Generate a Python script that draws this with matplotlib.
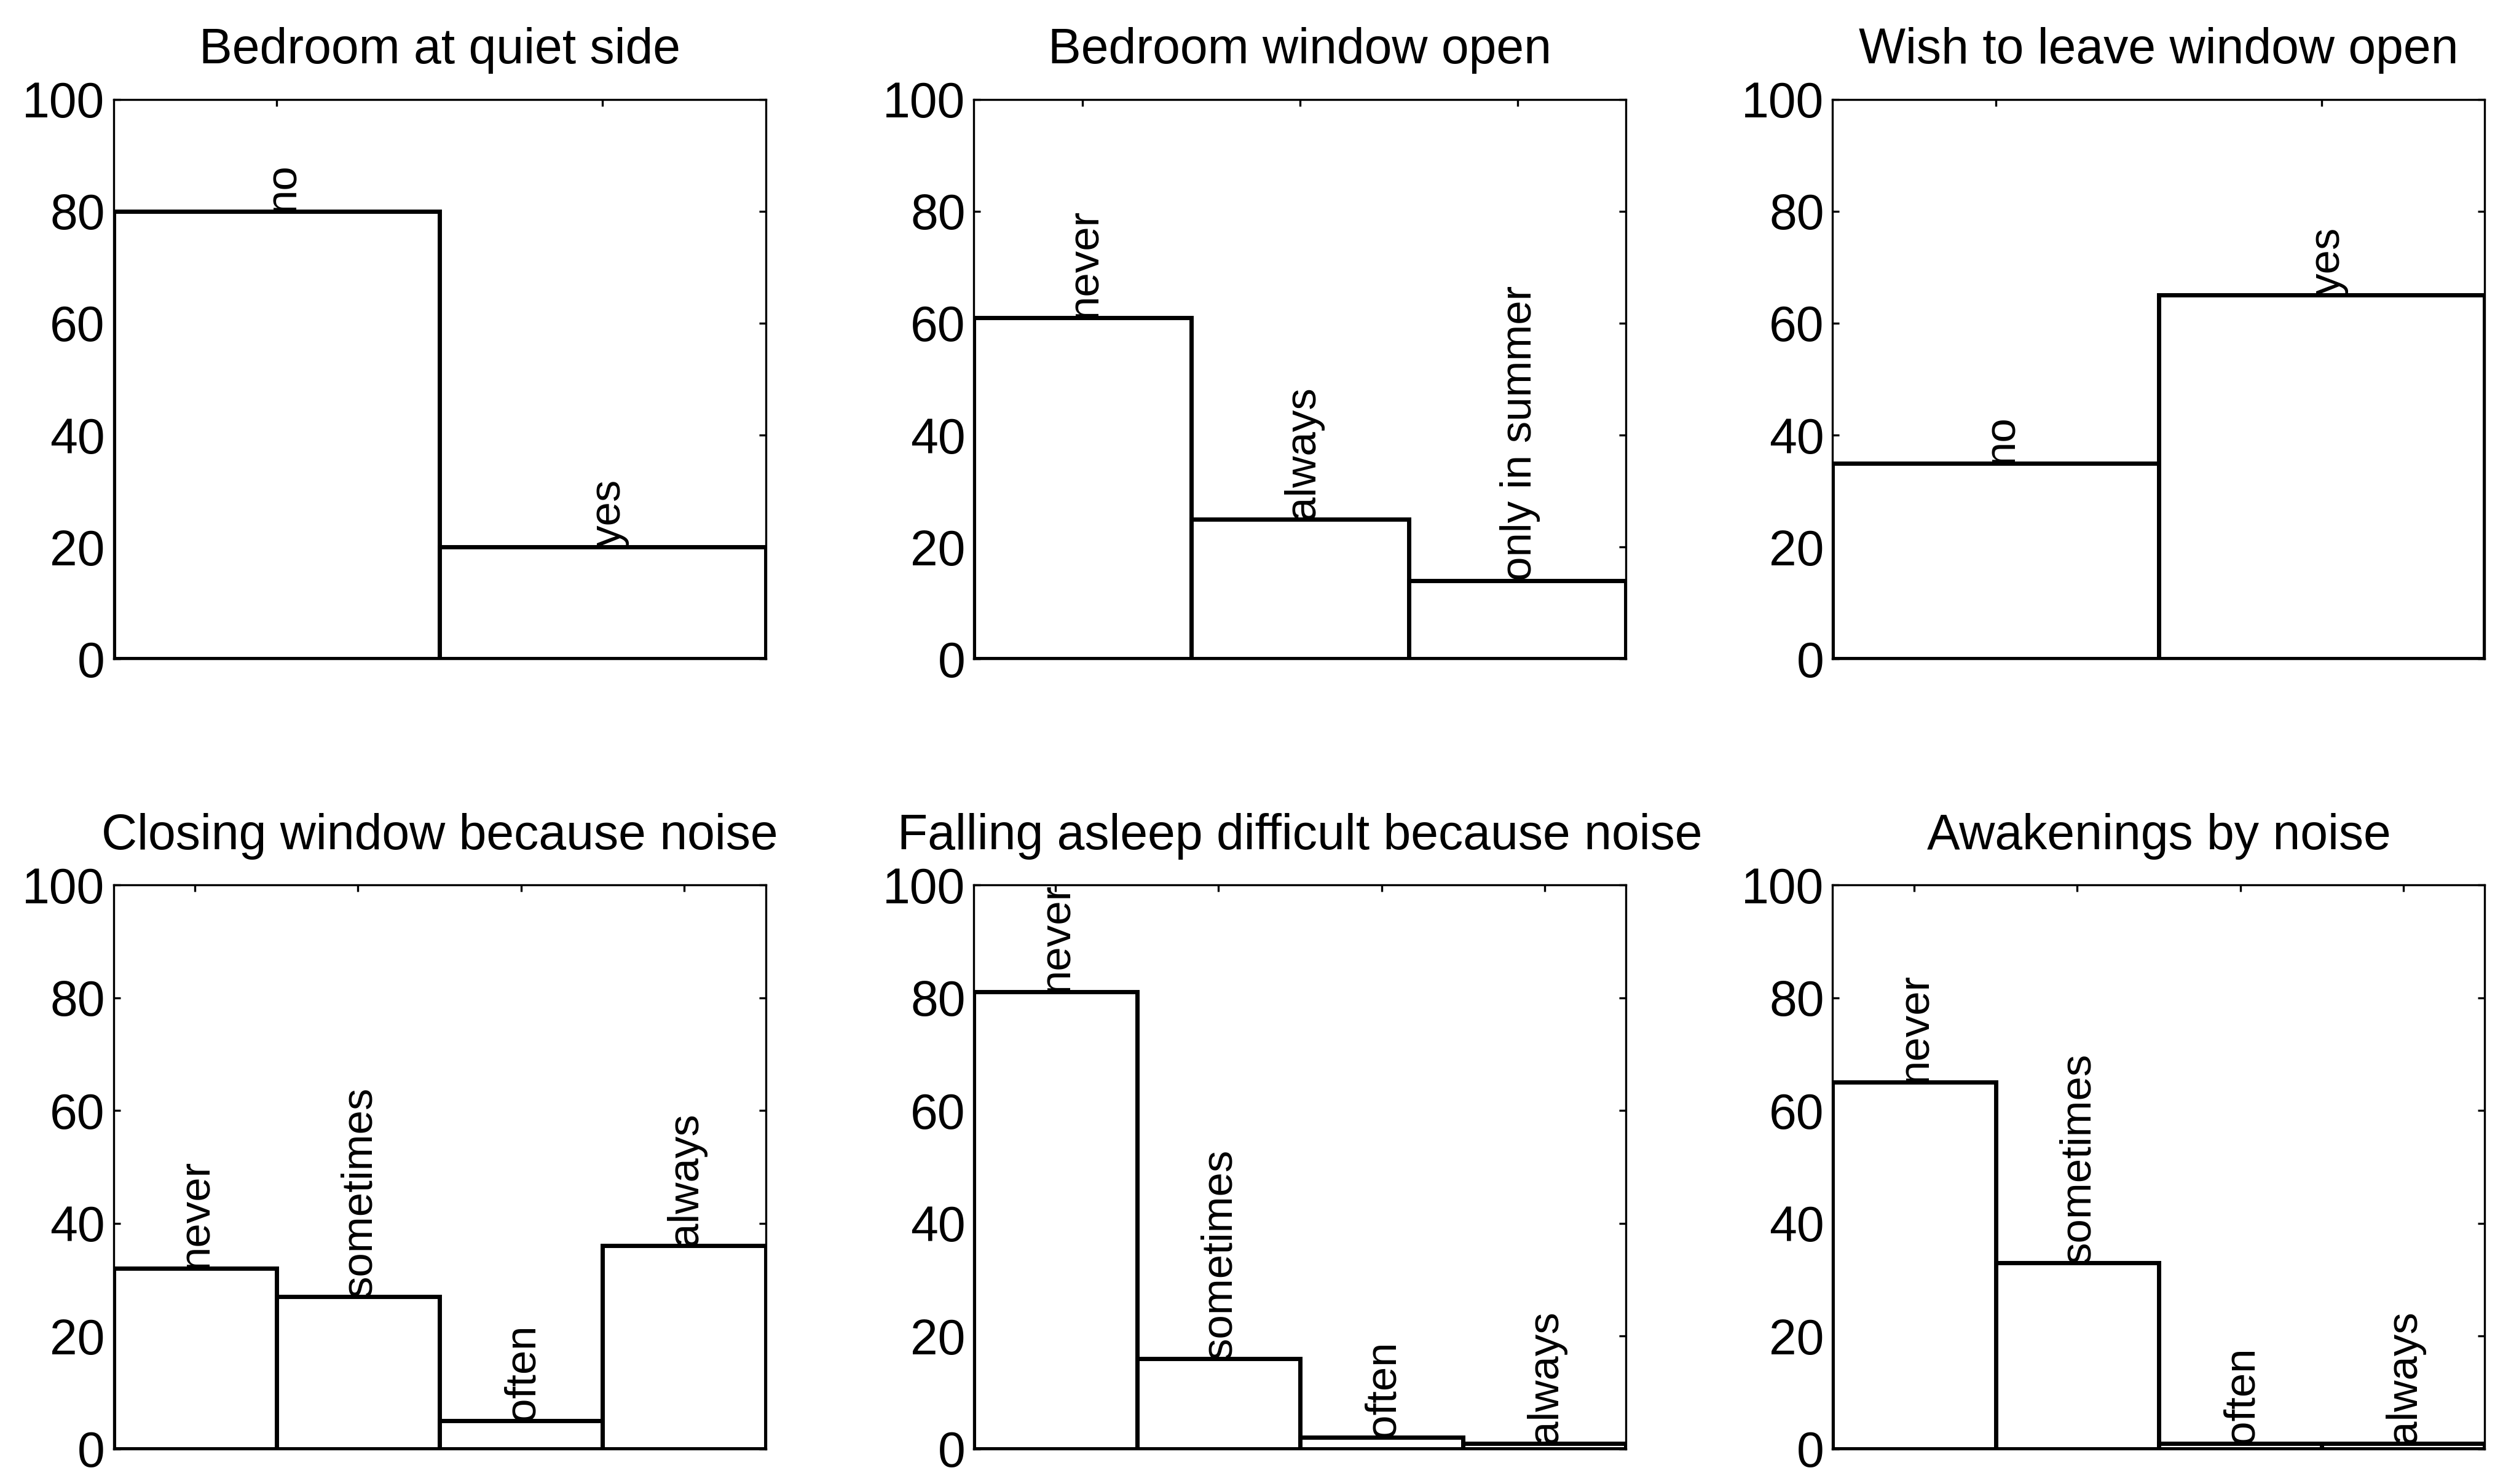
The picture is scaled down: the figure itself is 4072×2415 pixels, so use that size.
import matplotlib
matplotlib.use('Agg')
import matplotlib.pyplot as plt

plt.rcParams['font.family'] = ['Liberation Sans', 'DejaVu Sans']

# survey answers, percent of respondents
titles = ['Bedroom at quiet side', 'Bedroom window open', 'Wish to leave window open',
          'Closing window because noise', 'Falling asleep difficult because noise',
          'Awakenings by noise']

quiet_side_labels = ['no', 'yes']
quiet_side_values = [80, 20]

window_open_labels = ['never', 'always', 'only in summer']
window_open_values = [61, 25, 14]

wish_open_labels = ['no', 'yes']
wish_open_values = [35, 65]

freq_labels = ['never', 'sometimes', 'often', 'always']
closing_values = [32, 27, 5, 36]
asleep_values = [81, 16, 2, 1]
awaken_values = [65, 33, 1, 1]

panels = [
    (quiet_side_labels, quiet_side_values),
    (window_open_labels, window_open_values),
    (wish_open_labels, wish_open_values),
    (freq_labels, closing_values),
    (freq_labels, asleep_values),
    (freq_labels, awaken_values),
]

fig = plt.figure(figsize=(40.73, 24.15), dpi=100)

lefts = [0.0453, 0.389, 0.732]
bottoms = [0.556, 0.0237]
heights = [0.377, 0.380]
w = 0.2605
fs = 58
label_fs = 51

for i, (labels, vals) in enumerate(panels):
    ax = fig.add_axes([lefts[i % 3], bottoms[i // 3], w, heights[i // 3]])
    x = list(range(1, len(vals) + 1))
    ax.bar(x, vals, width=1, color='white', edgecolor='black', linewidth=5, zorder=1)
    for xi, v, lab in zip(x, vals, labels):
        ax.text(xi + 0.01 * 4 / len(vals), v, lab, rotation=90, rotation_mode='anchor',
                ha='left', va='center', fontsize=label_fs, zorder=3)
    ax.set_axisbelow(True)
    ax.set_xlim(0.5, len(vals) + 0.5)
    ax.set_ylim(0, 100)
    ax.set_xticks(x)
    ax.set_yticks(range(0, 101, 20))
    ax.tick_params(direction='in', top=True, right=True, labelbottom=False,
                   length=8, width=2.4, labelsize=fs, pad=10)
    for s in ax.spines.values():
        s.set_linewidth(2.4)
    ax.set_title(titles[i], fontsize=fs, pad=42)

fig.savefig('out.png', dpi=100, facecolor='white')
